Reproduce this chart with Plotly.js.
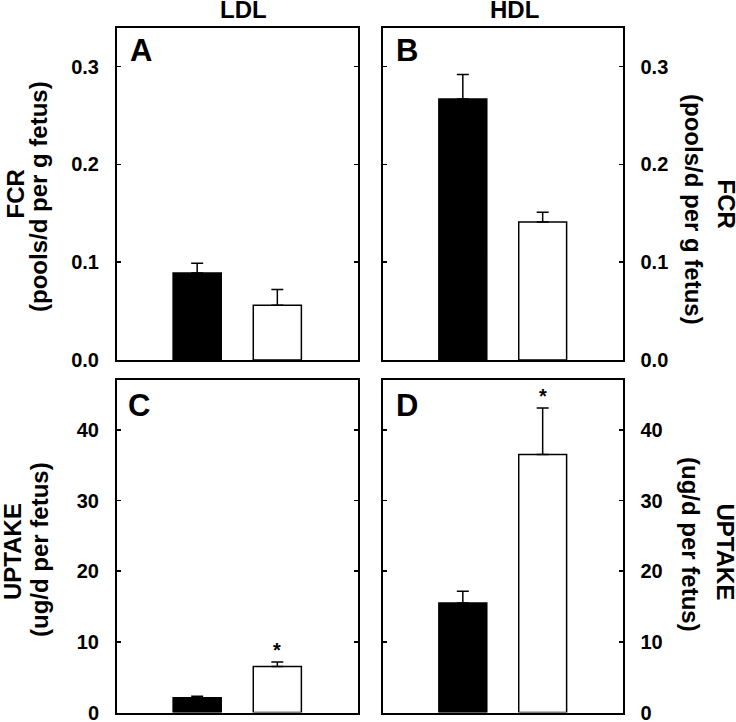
<!DOCTYPE html>
<html>
<head>
<meta charset="utf-8">
<script src="https://cdn.plot.ly/plotly-3.0.1.min.js"></script>
<style>html,body{margin:0;padding:0;background:#fff;}#chart{width:736px;height:722px;}</style>
</head>
<body>
<div id="chart"></div>
<script>
// ---- data ----
const groups = ['Group 1', 'Group 2'];
const barColors = ['#000000', '#ffffff'];

const fcrLDL = [0.089, 0.056];
const fcrLDLErr = [0.010, 0.016];
const fcrHDL = [0.267, 0.141];
const fcrHDLErr = [0.025, 0.010];

const uptakeLDL = [2.1, 6.5];
const uptakeLDLErr = [0.2, 0.65];
const uptakeHDL = [15.5, 36.5];
const uptakeHDLErr = [1.65, 6.6];

const uptakeLDLSig = [false, true];
const uptakeHDLSig = [false, true];

const columnLabels = ['LDL', 'HDL'];
const panelLetters = ['A', 'B', 'C', 'D'];
const fcrTitle = ['FCR', '(pools/d per g fetus)'];
const uptakeTitle = ['UPTAKE', '(ug/d per fetus)'];

// ---- styling ----
const W = 736, H = 722;
const FONT = 'Liberation Sans, Arial, Helvetica, sans-serif';
const px = v => v / W;
const py = v => 1 - v / H;

function barTrace(vals, errs, xa, ya) {
  return {
    type: 'bar', x: groups, y: vals, xaxis: xa, yaxis: ya,
    width: 0.6,
    marker: {color: barColors, line: {color: '#000', width: 1.5}},
    error_y: {type: 'data', symmetric: false, array: errs,
              arrayminus: errs.map(() => 0), color: '#000', thickness: 1.5, width: 6},
    hoverinfo: 'none', showlegend: false
  };
}

const data = [
  barTrace(fcrLDL, fcrLDLErr, 'x', 'y'),
  barTrace(fcrHDL, fcrHDLErr, 'x2', 'y2'),
  barTrace(uptakeLDL, uptakeLDLErr, 'x3', 'y3'),
  barTrace(uptakeHDL, uptakeHDLErr, 'x4', 'y4')
];

const leftDom = [px(117), px(357.5)];
const rightDom = [px(383), px(622.5)];
const topDom = [py(360), py(27.5)];
const botDom = [py(712.5), py(380)];

function xax(dom, anchor) {
  return {domain: dom, anchor: anchor, type: 'category', range: [-1, 2],
          showticklabels: false, ticks: '', showline: true, mirror: true,
          linecolor: '#000', linewidth: 2, showgrid: false, zeroline: false, fixedrange: true};
}
function yax(dom, anchor, range, dtick, fmt, side) {
  return {domain: dom, anchor: anchor, range: range, dtick: dtick, tick0: 0,
          tickformat: fmt, side: side, ticks: 'inside', ticklen: 4, tickwidth: 1.5,
          tickcolor: '#000', showline: true, mirror: 'ticks', linecolor: '#000',
          linewidth: 2, showgrid: false, zeroline: false, ticklabelstandoff: 12,
          ticklabeloverflow: 'allow',
          tickfont: {family: FONT, size: 20, color: '#000', weight: 'bold'}, fixedrange: true};
}

const annotations = [];
function txt(text, x, y, size, angle) {
  annotations.push({text: text, xref: 'paper', yref: 'paper', x: px(x), y: py(y),
    xanchor: 'center', yanchor: 'middle', showarrow: false, textangle: angle || 0,
    font: {family: FONT, size: size, color: '#000', weight: 'bold'}});
}

// column labels
txt(columnLabels[0], 243.5, 10, 24);
txt(columnLabels[1], 514.5, 10, 24);
// panel letters
txt(panelLetters[0], 140.5, 51, 31);
txt(panelLetters[1], 407, 51, 31);
txt(panelLetters[2], 139, 405, 31);
txt(panelLetters[3], 407, 406, 31);
// axis titles
txt(fcrTitle[0], 14.5, 194, 24, -90);
txt(fcrTitle[1], 39, 197, 24, -90);
txt(fcrTitle[0], 725.5, 204, 24, 90);
txt(fcrTitle[1], 694, 209, 24, 90);
txt(uptakeTitle[0], 12, 552, 24, -90);
txt(uptakeTitle[1], 39, 550, 24, -90);
txt(uptakeTitle[0], 725.5, 552, 24, 90);
txt(uptakeTitle[1], 691, 544, 24, 90);

// significance asterisks
function stars(vals, errs, sig, xa, ya) {
  sig.forEach((s, i) => {
    if (!s) return;
    annotations.push({text: '*', xref: xa, yref: ya, x: groups[i], y: vals[i] + errs[i],
      xanchor: 'center', yanchor: 'bottom', showarrow: false, yshift: -1,
      font: {family: FONT, size: 20, color: '#000', weight: 'bold'}});
  });
}
stars(uptakeLDL, uptakeLDLErr, uptakeLDLSig, 'x3', 'y3');
stars(uptakeHDL, uptakeHDLErr, uptakeHDLSig, 'x4', 'y4');

const layout = {
  width: W, height: H,
  margin: {l: 0, r: 0, t: 0, b: 0},
  paper_bgcolor: '#fff', plot_bgcolor: '#fff',
  showlegend: false,
  bargap: 0.4,
  xaxis: xax(leftDom, 'y'),
  xaxis2: xax(rightDom, 'y2'),
  xaxis3: xax(leftDom, 'y3'),
  xaxis4: xax(rightDom, 'y4'),
  yaxis: yax(topDom, 'x', [0, 0.34], 0.1, '.1f', 'left'),
  yaxis2: yax(topDom, 'x2', [0, 0.34], 0.1, '.1f', 'right'),
  yaxis3: yax(botDom, 'x3', [0, 47.06], 10, 'd', 'left'),
  yaxis4: yax(botDom, 'x4', [0, 47.06], 10, 'd', 'right'),
  annotations: annotations
};

Plotly.newPlot('chart', data, layout, {displayModeBar: false, staticPlot: true});
</script>
</body>
</html>
